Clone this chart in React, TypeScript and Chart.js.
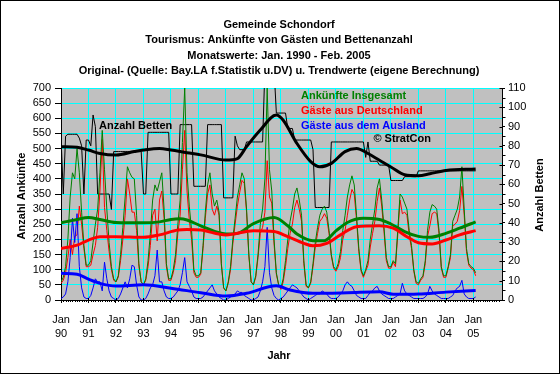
import React, { useEffect, useRef } from 'react';
import { Chart, registerables } from 'chart.js';
Chart.register(...registerables);

const FONT = "'Liberation Sans', Arial, sans-serif";

const titleLines = [
  'Gemeinde Schondorf',
  'Tourismus: Ankünfte von Gästen und Bettenanzahl',
  'Monatswerte: Jan. 1990 - Feb. 2005',
  'Original- (Quelle: Bay.LA f.Statistik u.DV) u. Trendwerte (eigene Berechnung)',
];
const yearLabels = ['90', '91', '92', '93', '94', '95', '96', '97', '98', '99', '00', '01', '02', '03', '04', '05'];
const seriesNames = ['Ankünfte Insgesamt', 'Gäste aus Deutschland', 'Gäste aus dem Ausland'];

// monthly values Jan 1990 - Feb 2005
const ankuenfteGesamt = [
  60, 75, 110, 200, 340, 420, 400, 500, 420, 290, 180, 115,
  115, 130, 190, 250, 300, 420, 560, 430, 300, 190, 110, 70,
  60, 80, 150, 240, 340, 440, 420, 405, 400, 280, 120, 60,
  50, 70, 130, 220, 330, 380, 360, 390, 420, 300, 120, 70,
  70, 100, 150, 250, 330, 520, 700, 420, 310, 230, 100, 80,
  80, 90, 180, 290, 380, 420, 350, 310, 330, 290, 120, 40,
  30, 60, 110, 200, 270, 340, 380, 420, 400, 300, 150, 60,
  50, 80, 150, 250, 300, 400, 700, 430, 360, 200, 90, 50,
  40, 70, 130, 200, 260, 300, 350, 370, 330, 280, 130, 50,
  40, 60, 120, 190, 240, 280, 300, 310, 290, 230, 150, 110,
  100, 120, 160, 230, 280, 340, 380, 410, 380, 280, 170, 100,
  80, 100, 130, 200, 250, 300, 370, 400, 330, 240, 140, 110,
  110, 130, 120, 230, 350, 340, 320, 300, 230, 180, 100, 60,
  55, 70, 80, 130, 230, 290, 315, 310, 300, 230, 110, 80,
  80, 110, 150, 260, 280, 300, 340, 440, 300, 170, 120, 110,
  105, 90,
];
const gaesteDeutschland = [
  55, 65, 90, 140, 200, 150, 210, 215, 310, 250, 170, 110,
  110, 115, 150, 180, 240, 360, 530, 305, 230, 160, 100, 65,
  60, 75, 130, 200, 280, 400, 350, 290, 290, 230, 110, 60,
  50, 65, 110, 180, 280, 300, 195, 330, 360, 270, 110, 65,
  65, 90, 130, 220, 280, 430, 560, 360, 265, 200, 90, 75,
  75, 85, 170, 270, 350, 380, 300, 280, 310, 280, 115, 40,
  30, 55, 100, 185, 250, 310, 355, 395, 385, 290, 145, 60,
  50, 75, 140, 220, 240, 290, 460, 340, 320, 185, 85, 50,
  35, 60, 110, 170, 220, 250, 305, 330, 300, 260, 120, 45,
  40, 55, 110, 175, 220, 260, 270, 285, 270, 220, 145, 105,
  95, 110, 140, 200, 230, 280, 330, 365, 350, 265, 160, 95,
  75, 95, 115, 175, 220, 260, 325, 370, 310, 225, 130, 105,
  105, 125, 110, 215, 330, 285, 290, 280, 215, 170, 95, 55,
  50, 65, 75, 120, 210, 245, 285, 290, 285, 220, 105, 75,
  75, 105, 140, 245, 250, 260, 295, 375, 280, 160, 115, 105,
  100, 80,
];
const gaesteAusland = [
  5, 10, 20, 60, 140, 270, 190, 285, 110, 40, 10, 5,
  5, 15, 40, 70, 60, 60, 30, 125, 70, 30, 10, 5,
  0, 5, 20, 40, 60, 40, 70, 115, 110, 50, 10, 0,
  0, 5, 20, 40, 50, 80, 165, 60, 60, 30, 10, 5,
  5, 10, 20, 30, 50, 90, 140, 60, 45, 30, 10, 5,
  5, 5, 10, 20, 30, 40, 50, 30, 20, 10, 5, 0,
  0, 5, 10, 15, 20, 30, 25, 25, 15, 10, 5, 0,
  0, 5, 10, 30, 60, 110, 240, 90, 40, 15, 5, 0,
  5, 10, 20, 30, 40, 50, 45, 40, 30, 20, 10, 5,
  0, 5, 10, 15, 20, 20, 30, 25, 20, 10, 5, 5,
  5, 10, 20, 30, 50, 60, 50, 45, 30, 15, 10, 5,
  5, 5, 15, 25, 30, 40, 45, 30, 20, 15, 10, 5,
  5, 5, 10, 15, 20, 55, 30, 20, 15, 10, 5, 5,
  5, 5, 5, 10, 20, 45, 30, 20, 15, 10, 5, 5,
  5, 5, 10, 15, 30, 40, 45, 65, 20, 10, 5, 5,
  5, 10,
];
const anzahlBetten = [
  85, 55, 85, 86, 86, 86, 86, 86, 84, 80, 55, 83,
  83, 80, 96, 90, 55, 55, 55, 55, 55, 55, 47, 77,
  77, 77, 77, 77, 77, 77, 77, 77, 77, 77, 77, 77,
  55, 55, 87, 87, 87, 87, 87, 87, 87, 87, 87, 87,
  55, 55, 55, 55, 91, 91, 91, 91, 91, 91, 59, 59,
  59, 59, 59, 59, 91, 91, 91, 91, 91, 91, 91, 53,
  53, 53, 53, 53, 85, 80, 78, 78, 78, 82, 82, 82,
  82, 82, 82, 82, 82, 120, 120, 120, 120, 120, 97, 97,
  97, 97, 97, 89, 89, 89, 83, 83, 83, 83, 83, 83,
  83, 83, 78, 48, 48, 48, 48, 48, 48, 48, 82, 82,
  82, 82, 82, 82, 82, 82, 82, 82, 82, 82, 82, 82,
  82, 74, 82, 72, 72, 72, 72, 70, 70, 70, 70, 70,
  62, 62, 62, 62, 62, 62, 64, 64, 64, 64, 64, 64,
  67, 67, 67, 67, 67, 67, 67, 67, 67, 67, 67, 67,
  67, 67, 67, 67, 67, 67, 67, 67, 67, 67, 67, 67,
  67, 67,
];

// trend values (month index since Jan 1990, value)
const trendMonthsGesamt = [0, 7, 12, 17, 24, 36, 43, 48, 52, 55, 61, 72, 77, 84, 93, 99, 103, 110, 115, 120, 125, 132, 139, 144, 150, 156, 161, 168, 174, 181];
const trendGesamt = [255, 266, 272, 266, 256, 255, 258, 266, 268, 264, 245, 218, 220, 252, 272, 245, 218, 196, 196, 228, 256, 270, 266, 251, 226, 210, 207, 220, 237, 258];
const trendMonthsDeutschland = [0, 7, 12, 17, 24, 36, 43, 51, 55, 61, 72, 84, 93, 99, 106, 110, 116, 122, 129, 139, 145, 151, 156, 162, 168, 174, 181];
const trendDeutschland = [170, 181, 198, 209, 209, 207, 215, 231, 233, 231, 215, 229, 226, 209, 187, 179, 187, 215, 242, 245, 237, 209, 189, 185, 198, 215, 229];
const trendMonthsAusland = [0, 7, 12, 17, 24, 36, 48, 61, 72, 81, 94, 100, 110, 125, 139, 145, 156, 168, 181];
const trendAusland = [88, 85, 69, 55, 46, 50, 39, 24, 13, 22, 47, 33, 22, 24, 27, 19, 20, 26, 31];
const trendMonthsBetten = [0, 7, 12, 17, 24, 32, 36, 43, 48, 55, 61, 72, 77, 81, 87, 94, 97, 103, 109, 113, 118, 124, 129, 134, 139, 144, 150, 156, 161, 168, 181];
const trendBetten = [79.5, 79.2, 77.8, 76, 75.2, 77, 77.8, 78.6, 77.8, 76.4, 75.3, 72.6, 73.4, 79.6, 88.2, 96, 93.3, 81.2, 71.8, 69.1, 70.9, 77, 78.6, 76, 72.5, 69, 65, 64.5, 65.5, 67.2, 68];

const GREEN = '#008000';
const RED = '#FF0000';
const BLUE = '#0000FF';
const CYAN = '#00FFFF';

const monthly = (arr: number[]) => arr.map((v, i) => ({ x: i, y: v }));
const paired = (xs: number[], ys: number[]) => xs.map((x, i) => ({ x, y: ys[i] }));

const decorPlugin = {
  id: 'decor',
  beforeDraw(chart: any) {
    const { ctx, chartArea: a } = chart;
    ctx.save();
    ctx.fillStyle = '#FFFFFF';
    ctx.fillRect(0, 0, chart.width, chart.height);
    ctx.fillStyle = '#C0C0C0';
    ctx.fillRect(a.left, a.top, a.right - a.left, a.bottom - a.top);
    ctx.restore();
  },
  afterDatasetsDraw(chart: any) {
    const { ctx } = chart;
    ctx.save();
    ctx.font = `bold 11px ${FONT}`;
    ctx.textBaseline = 'middle';
    ctx.textAlign = 'left';
    ctx.fillStyle = GREEN;
    ctx.fillText(seriesNames[0], 301, 96);
    ctx.fillStyle = RED;
    ctx.fillText(seriesNames[1], 301, 111);
    ctx.fillStyle = BLUE;
    ctx.fillText(seriesNames[2], 301, 126);
    ctx.fillStyle = '#000';
    ctx.textAlign = 'right';
    ctx.fillText('© StratCon', 431, 138.5);
    ctx.textAlign = 'left';
    ctx.fillText('Anzahl Betten', 99, 126);
    ctx.restore();
  },
  afterDraw(chart: any) {
    const { ctx, chartArea: a, scales } = chart;
    ctx.save();
    ctx.strokeStyle = '#000';
    ctx.lineWidth = 1;
    ctx.beginPath();
    // minor month ticks below x axis
    for (let m = 1; m < 192; m++) {
      if (m % 12 === 0) continue;
      const px = Math.round(scales.x.getPixelForValue(m)) + 0.5;
      ctx.moveTo(px, a.bottom + 0.5);
      ctx.lineTo(px, a.bottom + 2);
    }
    // year ticks crossing into the plot
    for (let m = 12; m <= 180; m += 12) {
      const px = Math.round(scales.x.getPixelForValue(m)) + 0.5;
      ctx.moveTo(px, a.bottom - 2);
      ctx.lineTo(px, a.bottom);
    }
    // right axis: crossing major ticks and minor ticks
    const rx = Math.round(a.right) + 0.5;
    for (let v = 0; v <= 110; v += 5) {
      const py = Math.round(scales.y1.getPixelForValue(v)) + 0.5;
      if (v % 10 === 0) {
        ctx.moveTo(rx - 3, py);
        ctx.lineTo(rx, py);
      } else {
        ctx.moveTo(rx, py);
        ctx.lineTo(rx + 3, py);
      }
    }
    ctx.stroke();
    ctx.fillStyle = '#000';
    ctx.font = `bold 11px ${FONT}`;
    ctx.textAlign = 'center';
    ctx.textBaseline = 'middle';
    const ys = [24.5, 40, 55.5, 71];
    titleLines.forEach((t, i) => ctx.fillText(t, 279, ys[i]));
    ctx.fillText('Jahr', 279, 356);
    ctx.save();
    ctx.translate(22, 196);
    ctx.rotate(-Math.PI / 2);
    ctx.fillText('Anzahl Ankünfte', 0, 0);
    ctx.restore();
    ctx.save();
    ctx.translate(540, 195);
    ctx.rotate(-Math.PI / 2);
    ctx.fillText('Anzahl Betten', 0, 0);
    ctx.restore();
    ctx.strokeStyle = '#000';
    ctx.strokeRect(0.5, 0.5, chart.width - 1, chart.height - 1);
    ctx.restore();
  },
};

export default function App() {
  const ref = useRef<HTMLCanvasElement>(null);
  useEffect(() => {
    document.body.style.margin = '0';
    const canvas = ref.current!;
    const tickFont = { family: FONT, size: 11 };
    const chart = new Chart(canvas, {
      type: 'line',
      data: {
        datasets: [
          { data: monthly(anzahlBetten), yAxisID: 'y1', borderColor: '#000', borderWidth: 1, order: 8 },
          { data: monthly(ankuenfteGesamt), yAxisID: 'y', borderColor: GREEN, borderWidth: 1, order: 6 },
          { data: monthly(gaesteDeutschland), yAxisID: 'y', borderColor: RED, borderWidth: 1, order: 7 },
          { data: monthly(gaesteAusland), yAxisID: 'y', borderColor: BLUE, borderWidth: 1, order: 5 },
          { data: paired(trendMonthsBetten, trendBetten), yAxisID: 'y1', borderColor: '#000', borderWidth: 3, cubicInterpolationMode: 'monotone', order: 4 },
          { data: paired(trendMonthsGesamt, trendGesamt), yAxisID: 'y', borderColor: GREEN, borderWidth: 3, cubicInterpolationMode: 'monotone', order: 3 },
          { data: paired(trendMonthsDeutschland, trendDeutschland), yAxisID: 'y', borderColor: RED, borderWidth: 3, cubicInterpolationMode: 'monotone', order: 2 },
          { data: paired(trendMonthsAusland, trendAusland), yAxisID: 'y', borderColor: BLUE, borderWidth: 3, cubicInterpolationMode: 'monotone', order: 1 },
        ] as any,
      },
      options: {
        responsive: false,
        animation: false,
        layout: { padding: { top: 88, left: 0, right: 0, bottom: 0 } },
        elements: { point: { radius: 0 }, line: { tension: 0 } },
        plugins: { legend: { display: false }, tooltip: { enabled: false }, title: { display: false } },
        scales: {
          x: {
            type: 'linear',
            min: 0,
            max: 192.5,
            afterBuildTicks: (s: any) => {
              s.ticks = yearLabels.map((_, i) => ({ value: i * 12 }));
            },
            afterFit: (s: any) => { s.height = 74; },
            grid: { color: CYAN, tickColor: '#000', tickLength: 3, lineWidth: 1 },
            border: { color: '#000' },
            ticks: {
              color: '#000',
              font: { ...tickFont, lineHeight: 1.3 },
              padding: 10,
              maxRotation: 0,
              autoSkip: false,
              callback: (v: any) => {
                const i = Math.round(Number(v) / 12);
                return ['Jan', yearLabels[i]];
              },
            },
          },
          y: {
            position: 'left',
            min: 0,
            max: 700,
            afterFit: (s: any) => { s.width = 61; },
            grid: { color: CYAN, tickColor: '#000', tickLength: 6 },
            border: { color: '#000' },
            ticks: { stepSize: 50, maxTicksLimit: 30, autoSkip: false, color: '#000', font: tickFont, padding: 4 },
          },
          y1: {
            position: 'right',
            min: 0,
            max: 110,
            afterFit: (s: any) => { s.width = 58; },
            grid: { drawOnChartArea: false, tickColor: '#000', tickLength: 3 },
            border: { color: '#000' },
            ticks: { stepSize: 10, maxTicksLimit: 30, autoSkip: false, color: '#000', font: tickFont, padding: 3 },
          },
        },
      } as any,
      plugins: [decorPlugin],
    });
    return () => chart.destroy();
  }, []);
  return <canvas ref={ref} width={560} height={374} style={{ display: 'block' }} />;
}
